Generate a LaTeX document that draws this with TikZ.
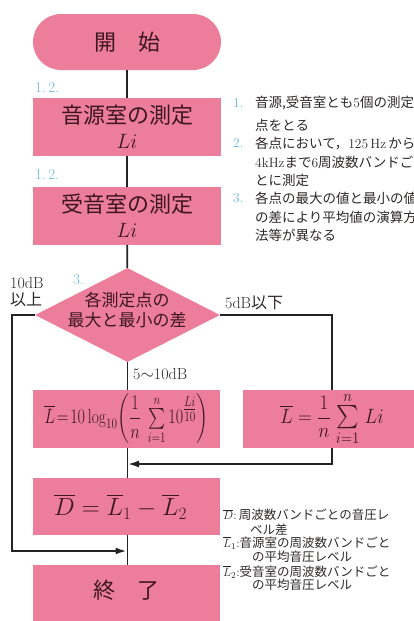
\documentclass[tikz,border=0pt]{standalone}
\usepackage{amsmath}
\usepackage{fontspec}
\newfontfamily\jp{Noto Sans CJK JP}
\newcommand\jtxt[1]{{\jp #1}}
\usetikzlibrary{arrows.meta,shapes.geometric}
\definecolor{boxpink}{RGB}{236,126,156}
\definecolor{boxtext}{RGB}{62,22,32}
\definecolor{labelblue}{RGB}{105,185,220}
\definecolor{linecol}{RGB}{35,35,35}
\definecolor{notetext}{RGB}{45,40,40}
\begin{document}
\begin{tikzpicture}[x=1pt,y=-1pt,
  pinkbox/.style={fill=boxpink, draw=none, minimum width=188pt, minimum height=58pt,
    inner sep=0pt, text=boxtext, align=center, font=\jp\fontsize{22}{25}\selectfont},
  conn/.style={draw=linecol, line width=1.8pt},
  arr/.style={conn, -{Latex[length=11pt,width=7pt]}},
  numlabel/.style={text=labelblue, font=\fontsize{15}{15}\selectfont, inner sep=0pt, anchor=west},
  lbl/.style={text=notetext, font=\fontsize{16}{16}\selectfont, inner sep=0pt, anchor=west},
  note/.style={text=notetext, font=\fontsize{13.5}{13.5}\selectfont, inner sep=0pt, anchor=west},
  snote/.style={text=notetext, font=\fontsize{12.5}{12.5}\selectfont, inner sep=0pt, anchor=west}
]
\useasboundingbox (0,0) rectangle (414,621);
\clip (0,0) rectangle (414,621);

% main flow
\node[pinkbox, rounded corners=28pt, minimum height=56pt] (start) at (127,42) {開　始};
\node[pinkbox] (b1) at (127,127) {音源室の測定\\$Li$};
\node[pinkbox] (b2) at (127,216) {受音室の測定\\$Li$};
\node[diamond, fill=boxpink, minimum width=185pt, minimum height=94pt, inner sep=0pt] (dia) at (127.5,315) {};
\node[text=boxtext, align=center, inner sep=0pt, font=\jp\fontsize{17}{20}\selectfont] (diat) at (127,310) {各測定点の\\最大と最小の差};
\node[pinkbox, minimum width=187pt, font=\fontsize{20}{22}\selectfont] (b3) at (126.5,419)
  {\scalebox{0.78}[1]{$\overline{L}\!=\!10\log_{10}\!\left(\dfrac{1}{n}\;\sum\limits_{i=1}^{n}10^{\tfrac{Li}{10}}\right)$}};
\node[pinkbox, minimum width=178pt, font=\fontsize{21}{23}\selectfont] (b4) at (332,419)
  {\scalebox{0.92}[1]{$\overline{L}=\dfrac{1}{n}\;\scalebox{1.12}{$\sum\limits_{i=1}^{n}$}\;Li$}};
\node[pinkbox, minimum width=187pt, minimum height=57pt, font=\fontsize{25}{28}\selectfont] (b5) at (126.5,506.5) {\hspace*{-12pt}$\overline{D}=\overline{L}_1-\overline{L}_2$};
\node[pinkbox, minimum width=187pt, minimum height=60pt] (b6) at (126.5,595) {\raisebox{11pt}{終　了}};

% connectors
\draw[conn] (start) -- (b1);
\draw[conn] (b1) -- (b2);
\draw[conn] (b2) -- (dia);
\draw[conn] (dia.south) -- (b3.north -| dia.south);
\draw[conn] (dia.east) -| (b4.north);
\coordinate (lc) at (12,551);
\draw[arr] (dia.west) -| (lc) -- (lc -| b5.south);
\coordinate (rj) at (128,464);
\draw[arr] (b4.south) |- (rj);
\draw[conn] (b3.south -| dia.south) -- (b5.north -| dia.south);
\draw[conn] (b5.south -| dia.south) -- (b6.north -| dia.south);

% labels on the flow
\node[numlabel] (l1) at (35,88) {1.\,2.};
\node[numlabel] (l2) at (35,175) {1.\,2.};
\node[numlabel] (l3) at (73,280) {3.};
\node[lbl] (t10a) at (10,283) {10dB};
\node[lbl] (t10b) at (10,300) {\jtxt{以上}};
\node[lbl] (t5) at (225,303) {5dB\jtxt{以下}};
\node[lbl] (t510) at (133,374) {5$\sim$10dB};

% notes top right
\node[numlabel, font=\fontsize{13.5}{13.5}\selectfont] (m1) at (233,103) {1.};
\node[numlabel, font=\fontsize{13.5}{13.5}\selectfont] (m2) at (233,143) {2.};
\node[numlabel, font=\fontsize{13.5}{13.5}\selectfont] (m3) at (233,198) {3.};
\node[note] (n1a) at (255,103) {\jtxt{音源,受音室とも}5\jtxt{個の測定}};
\node[note] (n1b) at (255,125) {\jtxt{点をとる}};
\node[note] (n2a) at (255,143) {\jtxt{各点において，}125\,Hz\,\jtxt{から}};
\node[note] (n2b) at (255,162) {4kHz\jtxt{まで}6\jtxt{周波数バンドご}};
\node[note] (n2c) at (255,180) {\jtxt{とに測定}};
\node[note] (n3a) at (255,198) {\jtxt{各点の最大の値と最小の値}};
\node[note] (n3b) at (255,217) {\jtxt{の差により平均値の演算方}};
\node[note] (n3c) at (255,235) {\jtxt{法等が異なる}};

% notes bottom right
\node[snote] (d1a) at (223,515) {$\overline{D}$:\,\jtxt{周波数バンドごとの音圧レ}};
\node[snote] (d1b) at (250,530) {\jtxt{ベル差}};
\node[snote] (d2a) at (223,543) {$\overline{L}_1$:\jtxt{音源室の周波数バンドごと}};
\node[snote] (d2b) at (252,557) {\jtxt{の平均音圧レベル}};
\node[snote] (d3a) at (223,572) {$\overline{L}_2$:\jtxt{受音室の周波数バンドごと}};
\node[snote] (d3b) at (252,585) {\jtxt{の平均音圧レベル}};
\end{tikzpicture}
\end{document}
